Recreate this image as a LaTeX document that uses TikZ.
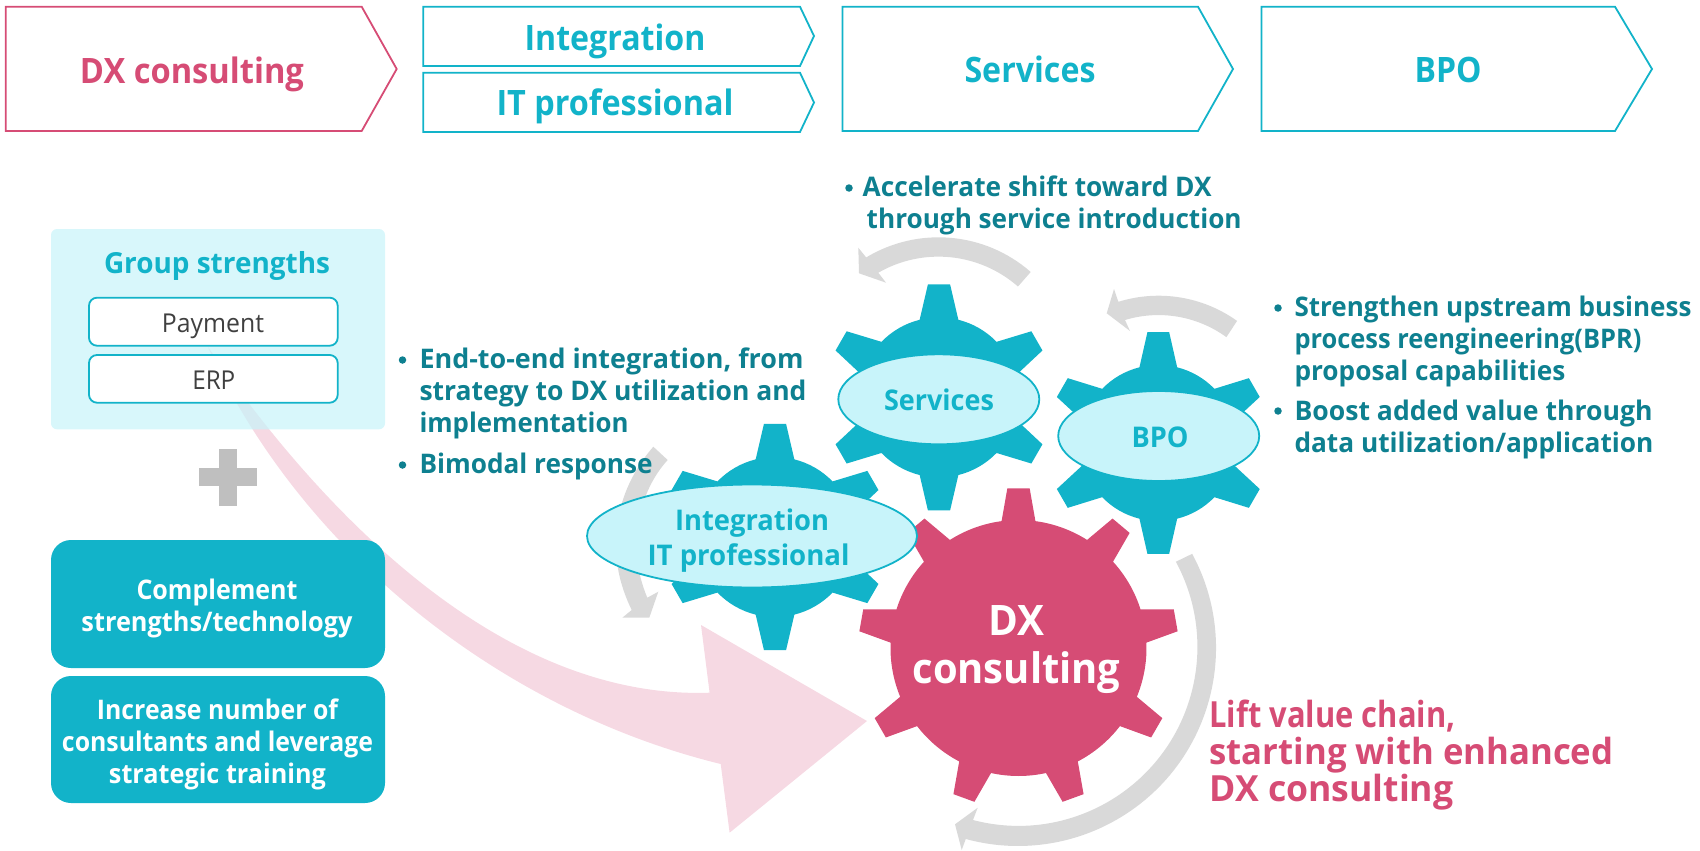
\documentclass[tikz,border=0pt]{standalone}
\usepackage{graphicx}
\usepackage{fontspec}
\setmainfont{Open Sans}
\newcommand{\semi}{\bfseries}
\newcommand{\tw}[2]{\resizebox{#1pt}{\height}{#2}}
\definecolor{teal}{HTML}{12B3C9}
\definecolor{rose}{HTML}{D64C75}
\definecolor{darkteal}{HTML}{0E8090}
\definecolor{ell}{HTML}{C8F4FA}
\definecolor{garrow}{HTML}{D9D9D9}
\definecolor{pinkarrow}{HTML}{F6D9E3}
\definecolor{grp}{HTML}{C7F3F9}
\tikzset{
  chev/.style={draw=#1,line width=1.8pt,fill=white,line join=miter},
  lab/.style={anchor=base,inner sep=0pt,outer sep=0pt},
  hdt/.style={lab,font=\fontsize{35}{42}\selectfont\semi},
  grouptxt/.style={lab,font=\fontsize{29}{34}\selectfont\semi,text=teal},
  plain/.style={lab,font=\fontsize{26}{30}\selectfont,text=black!75},
  boxt/.style={lab,font=\fontsize{27}{32}\selectfont\semi,text=white},
  bult/.style={lab,anchor=base west,font=\fontsize{27}{32}\selectfont\semi,text=darkteal},
  bul/.style={circle,fill=darkteal,inner sep=0pt,minimum size=7.5pt},
  lift/.style={lab,anchor=base west,font=\fontsize{36}{42}\selectfont\semi,text=rose},
  gl/.style={lab,font=\fontsize{28.5}{34}\selectfont\semi,text=teal},
  dxl/.style={lab,font=\fontsize{42}{50}\selectfont\semi,text=white},
  wbox/.style={draw=teal,line width=1.8pt,fill=white,rounded corners=8pt},
  tbox/.style={fill=teal,rounded corners=20pt},
  gearell/.style={draw=teal,line width=1.8pt,fill=ell},
  grayfill/.style={fill=garrow}
}
% cx cy r R n start halfbase halftip color
\newcommand{\gearshape}[9]{%
  \fill[#9] ([shift={(#1,#2)}]#6-#7:#3pt)
  \foreach \k [evaluate=\k as \a using {#6+(\k-1)*360/#5}] in {1,...,#5}{
    -- ([shift={(#1,#2)}]\a-#8:#4pt)
    -- ([shift={(#1,#2)}]\a+#8:#4pt)
    -- ([shift={(#1,#2)}]\a+#7:#3pt)
    arc[start angle={\a+#7},end angle={\a+360/#5-#7},radius=#3pt]
  } -- cycle;}
\begin{document}
\begin{tikzpicture}[x=1pt,y=-1pt]
\useasboundingbox (0,0) rectangle (1700,851);
% header chevrons
\draw[chev=rose] (5.7,6.7) -- (361.7,6.7) -- (396.7,69) -- (361.7,131) -- (5.7,131) -- cycle;
\draw[chev=teal] (423.3,6.7) -- (800,6.7) -- (814,36) -- (800,66) -- (423.3,66) -- cycle;
\draw[chev=teal] (423.3,72.7) -- (800,72.7) -- (814,102.5) -- (800,132) -- (423.3,132) -- cycle;
\draw[chev=teal] (842.5,6.7) -- (1198,6.7) -- (1233,69) -- (1198,131) -- (842.5,131) -- cycle;
\draw[chev=teal] (1261.5,6.7) -- (1615,6.7) -- (1652,69) -- (1615,131) -- (1261.5,131) -- cycle;
\node[hdt,text=rose] (hdx) at (192,83) {\tw{224}{DX consulting}};
\node[hdt,text=teal] (hint) at (615,51) {\tw{181}{Integration}};
\node[hdt,text=teal] (hit) at (615,115.5) {\tw{237}{IT professional}};
\node[hdt,text=teal] (hsv) at (1030,82.3) {\tw{131}{Services}};
\node[hdt,text=teal] (hbp) at (1448,82.3) {\tw{67}{BPO}};
% pink arrow
\fill[pinkarrow] (208,347) .. controls (320,510) and (500,700) .. (709.6,692.7)
  -- (701,625) -- (867,721) -- (729.6,832.7) -- (720.7,764)
  .. controls (500,710) and (300,550) .. (208,347) -- cycle;
% group box
\fill[grp,fill opacity=.7,rounded corners=6pt] (51,229) rectangle (385,429.3);
\node[grouptxt] (gs) at (217,273.3) {\tw{226}{Group strengths}};
\draw[wbox] (89,297.7) rectangle (337.7,345.7);
\draw[wbox] (89,355) rectangle (337.7,402.7);
\node[plain] (pay) at (213,332.5) {\tw{102}{Payment}};
\node[plain] (erp) at (213.8,389.3) {\tw{43}{ERP}};
% plus
\fill[black!25] (219,449) rectangle (237.3,505.7);
\fill[black!25] (199,467.7) rectangle (257.3,486.3);
% teal boxes
\fill[tbox] (51,540) rectangle (385,668);
\fill[tbox] (51,676) rectangle (385,803);
\node[boxt] (b1) at (217,599.3) {\tw{161}{Complement}};
\node[boxt] (b2) at (217,631) {\tw{271}{strengths/technology}};
\node[boxt] (b3) at (217.5,719) {\tw{241}{Increase number of}};
\node[boxt] (b4) at (217.5,751) {\tw{311}{consultants and leverage}};
\node[boxt] (b5) at (217.5,783) {\tw{217}{strategic training}};
% gray arrows
\fill[grayfill] ([shift={(1018,648)}]28.4:198pt) arc[start angle=28.4,end angle=-105.3,radius=198pt]
  -- (961.7,850) -- (955,824.3) -- (977.7,807.7) -- (973,820)
  arc[start angle=-104.7,end angle=28.4,radius=179pt] -- cycle;
\fill[grayfill] ([shift={(938.5,377.3)}]48.8:140pt) arc[start angle=48.8,end angle=121.1,radius=140pt]
  -- (858.3,247.7) -- (859,273.3) -- (886,282.7) -- (878.3,272.7)
  arc[start angle=119.9,end angle=48.8,radius=120.7pt] -- cycle;
\fill[grayfill] ([shift={(1158.5,430.7)}]54.4:135pt) arc[start angle=54.4,end angle=107.3,radius=135pt]
  -- (1114,289) -- (1106.7,313.3) -- (1130,331) -- (1125,320)
  arc[start angle=106.8,end angle=54,radius=115.6pt] -- cycle;
\fill[grayfill] (653.3,446.7) .. controls (620,485) and (600,545) .. (631.7,610)
  -- (622.3,617.7) -- (649.3,617.7) -- (658.3,591.7) -- (647.3,597.7)
  .. controls (625,545) and (640,490) .. (667.7,460) -- cycle;
% gears
\gearshape{939}{397.4}{80}{113.6}{6}{90}{14}{5.6}{teal}
\gearshape{1158.3}{443}{78}{111.4}{6}{90}{14}{5.6}{teal}
\gearshape{775}{537}{80}{113.6}{6}{90}{14}{5.6}{teal}
\gearshape{1018.5}{648}{128}{160}{9}{90}{7.6}{4}{rose}
% ellipses
\draw[gearell] (938.8,399.3) ellipse [x radius=100.5,y radius=45];
\draw[gearell] (1158.7,436) ellipse [x radius=100.5,y radius=45];
\draw[gearell] (752,536) ellipse [x radius=165,y radius=51.5];
\node[gl] (gsv) at (939,410) {\tw{110}{Services}};
\node[gl] (gbp) at (1160,447.5) {\tw{57}{BPO}};
\node[gl] (gin) at (752,530) {\tw{154}{Integration}};
\node[gl] (git) at (748.5,565) {\tw{202}{IT professional}};
\node[dxl] (dx1) at (1016,635) {\tw{56}{DX}};
\node[dxl] (dx2) at (1016.5,683.3) {\tw{208}{consulting}};
% bullets
\node[bul] (d1) at (402.5,360) {};
\node[bul] (d2) at (402.5,465) {};
\node[bult] (t1) at (419.5,368.7) {\tw{384}{End-to-end integration, from}};
\node[bult] (t2) at (419.5,400.7) {\tw{387}{strategy to DX utilization and}};
\node[bult] (t3) at (419.5,432.7) {\tw{209}{implementation}};
\node[bult] (t4) at (419.5,473.7) {\tw{233}{Bimodal response}};
\node[bul] (d3) at (849,188) {};
\node[bult] (t5) at (862.7,196) {\tw{349}{Accelerate shift toward DX}};
\node[bult] (t6) at (866.7,228) {\tw{375}{through service introduction}};
\node[bul] (d4) at (1278,308) {};
\node[bul] (d5) at (1278,411) {};
\node[bult] (t7) at (1294.5,316) {\tw{397}{Strengthen upstream business}};
\node[bult] (t8) at (1294.5,348) {\tw{347}{process reengineering(BPR)}};
\node[bult] (t9) at (1294.5,380) {\tw{271}{proposal capabilities}};
\node[bult] (t10) at (1294.5,420) {\tw{358}{Boost added value through}};
\node[bult] (t11) at (1294.5,452.5) {\tw{359}{data utilization/application}};
\node[lift] (l1) at (1209.5,727.7) {\tw{246}{Lift value chain,}};
\node[lift] (l2) at (1209.5,764.5) {\tw{404}{starting with enhanced}};
\node[lift] (l3) at (1209.5,801.7) {\tw{244}{DX consulting}};
\end{tikzpicture}
\end{document}
